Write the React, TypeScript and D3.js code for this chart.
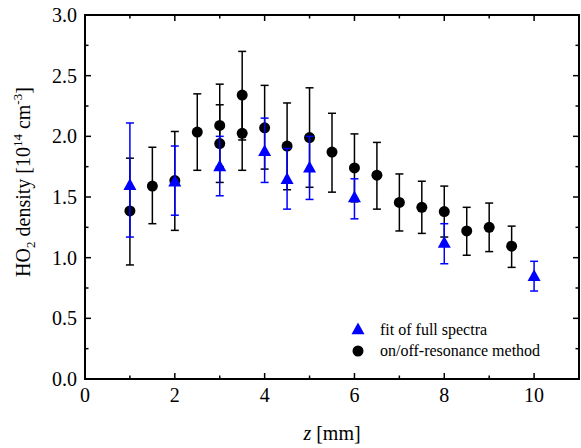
import React from "react";
import * as d3 from "d3";

const onoffZ = [1, 1.5, 2, 2.5, 3, 3, 3.5, 3.5, 4, 4.5, 5, 5.5, 6, 6.5, 7, 7.5, 8, 8.5, 9, 9.5];
const onoffV = [1.385, 1.59, 1.635, 2.035, 2.09, 1.94, 2.34, 2.025, 2.07, 1.92, 1.99, 1.87, 1.74, 1.68, 1.455, 1.415, 1.38, 1.22, 1.25, 1.095];
const onoffLo = [0.94, 1.28, 1.225, 1.72, 1.75, 1.62, 1.97, 1.72, 1.73, 1.56, 1.58, 1.54, 1.46, 1.4, 1.22, 1.2, 1.17, 1.02, 1.05, 0.92];
const onoffHi = [1.82, 1.91, 2.04, 2.35, 2.43, 2.26, 2.7, 2.33, 2.42, 2.275, 2.4, 2.19, 2.02, 1.95, 1.69, 1.63, 1.59, 1.415, 1.45, 1.26];

const fitZ = [1, 2, 3, 4, 4.5, 5, 6, 8, 10];
const fitV = [1.6, 1.63, 1.755, 1.88, 1.65, 1.745, 1.5, 1.125, 0.85];
const fitLo = [1.17, 1.35, 1.51, 1.62, 1.4, 1.48, 1.32, 0.95, 0.725];
const fitHi = [2.11, 1.92, 2.0, 2.15, 1.9, 2.0, 1.65, 1.28, 0.97];

const xMajor = [0, 2, 4, 6, 8, 10];
const xMinor = [1, 3, 5, 7, 9];
const yMajor = [0, 0.5, 1.0, 1.5, 2.0, 2.5, 3.0];
const yMinor = [0.25, 0.75, 1.25, 1.75, 2.25, 2.75];

const legendLabels = ["fit of full spectra", "on/off-resonance method"];

const W = 581;
const H = 448;
const L = 85, R = 579, T = 15, B = 379;
const FONT = "Liberation Serif";
const BLUE = "#0000ff";

export default function App() {
  const x = d3.scaleLinear().domain([0, 11]).range([L, R]);
  const y = d3.scaleLinear().domain([0, 3]).range([B, T]);
  const cap = 4;
  const tri = (cx: number, cy: number, s = 6.5) =>
    `M${cx},${cy - s} L${cx + s},${cy + s * 0.8} L${cx - s},${cy + s * 0.8} Z`;

  const errBar = (z: number, lo: number, hi: number, color: string, key: string) => (
    <g key={key} stroke={color} strokeWidth={1.5} fill="none">
      <line x1={x(z)} x2={x(z)} y1={y(lo)} y2={y(hi)} />
      <line x1={x(z) - cap} x2={x(z) + cap} y1={y(lo)} y2={y(lo)} />
      <line x1={x(z) - cap} x2={x(z) + cap} y1={y(hi)} y2={y(hi)} />
    </g>
  );

  return (
    <svg width={W} height={H} style={{ position: "absolute", left: 0, top: 0, background: "#fff", fontFamily: FONT }}>
      <rect x={0} y={0} width={W} height={H} fill="#fff" />
      <g stroke="#000" strokeWidth={1.5}>
        {xMajor.map((v) => (
          <g key={"xm" + v}>
            <line x1={x(v)} x2={x(v)} y1={B} y2={B - 6} />
            <line x1={x(v)} x2={x(v)} y1={T} y2={T + 6} />
          </g>
        ))}
        {xMinor.map((v) => (
          <g key={"xn" + v}>
            <line x1={x(v)} x2={x(v)} y1={B} y2={B - 3.5} />
            <line x1={x(v)} x2={x(v)} y1={T} y2={T + 3.5} />
          </g>
        ))}
        {yMajor.map((v) => (
          <g key={"ym" + v}>
            <line x1={L} x2={L + 6} y1={y(v)} y2={y(v)} />
            <line x1={R} x2={R - 6} y1={y(v)} y2={y(v)} />
          </g>
        ))}
        {yMinor.map((v) => (
          <g key={"yn" + v}>
            <line x1={L} x2={L + 3.5} y1={y(v)} y2={y(v)} />
            <line x1={R} x2={R - 3.5} y1={y(v)} y2={y(v)} />
          </g>
        ))}
      </g>
      <rect x={L} y={T} width={R - L} height={B - T} fill="none" stroke="#000" strokeWidth={2} />
      <g style={{ fontSize: "20px", fontFamily: FONT }} fill="#000">
        {xMajor.map((v) => (
          <text key={"xl" + v} x={x(v)} y={402} textAnchor="middle">{String(v)}</text>
        ))}
        {yMajor.map((v) => (
          <text key={"yl" + v} x={77} y={y(v)} dy="0.35em" textAnchor="end">{v.toFixed(1)}</text>
        ))}
      </g>
      <text x={(L + R) / 2} y={440} style={{ fontSize: "20px", fontFamily: FONT }} textAnchor="middle">
        <tspan fontStyle="italic">z</tspan> [mm]
      </text>
      <text transform={`translate(30,${(T + B) / 2 - 15}) rotate(-90)`} style={{ fontSize: "20px", fontFamily: FONT }} textAnchor="middle">
        HO<tspan style={{ fontSize: "13px" }} dy={5}>2</tspan>
        <tspan dy={-5}> density [10</tspan>
        <tspan style={{ fontSize: "13px" }} dy={-8}>14</tspan>
        <tspan dy={8}> cm</tspan>
        <tspan style={{ fontSize: "13px" }} dy={-8}>-3</tspan>
        <tspan dy={8}>]</tspan>
      </text>
      {onoffZ.map((z, i) => errBar(z, onoffLo[i], onoffHi[i], "#000", "be" + i))}
      {onoffZ.map((z, i) => (
        <circle key={"bc" + i} cx={x(z)} cy={y(onoffV[i])} r={5.5} fill="#000" />
      ))}
      {fitZ.map((z, i) => errBar(z, fitLo[i], fitHi[i], BLUE, "fe" + i))}
      {fitZ.map((z, i) => (
        <path key={"ft" + i} d={tri(x(z), y(fitV[i]))} fill={BLUE} />
      ))}
      <path d={tri(358, 329)} fill={BLUE} />
      <circle cx={358} cy={351} r={5.5} fill="#000" />
      <text x={380} y={335} style={{ fontSize: "16px", fontFamily: FONT }}>{legendLabels[0]}</text>
      <text x={380} y={356} style={{ fontSize: "16px", fontFamily: FONT }}>{legendLabels[1]}</text>
    </svg>
  );
}
